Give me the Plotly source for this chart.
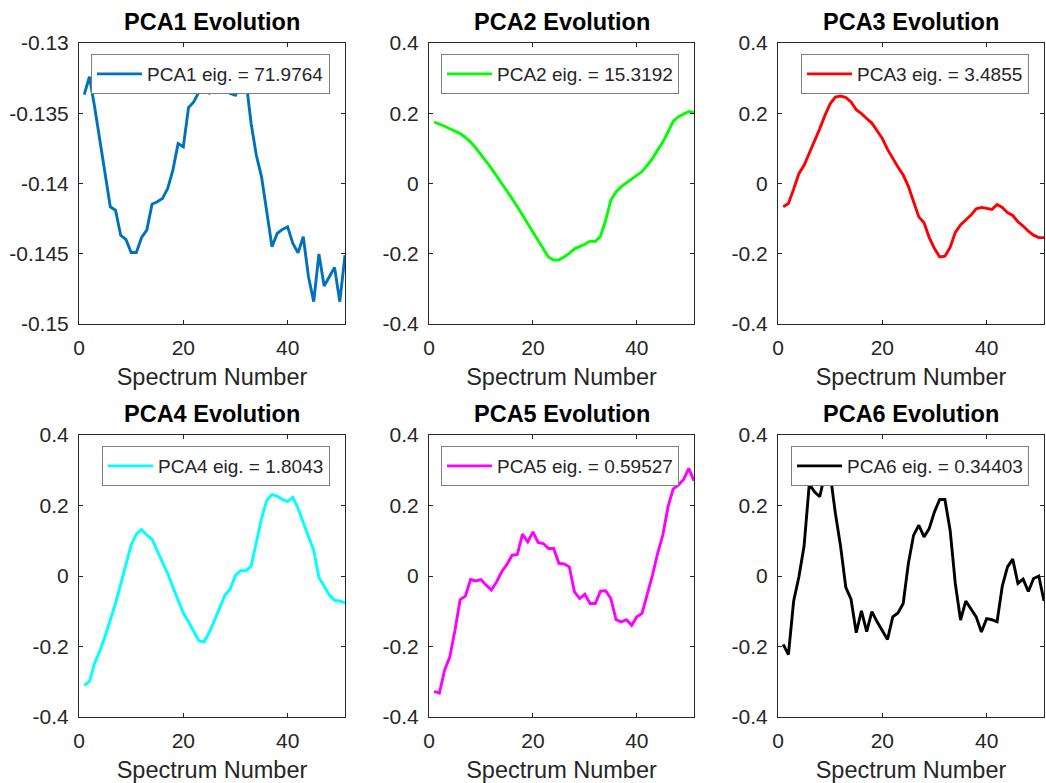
import plotly.graph_objects as go
from plotly.subplots import make_subplots

# spectrum index 1..51
spectrum = list(range(1, 52))

pca1 = [-0.13367, -0.1324, -0.13455, -0.13692, -0.13905, -0.14166, -0.14190, -0.14370, -0.14398, -0.14491,
        -0.14491, -0.14384, -0.14332, -0.14147, -0.14130, -0.14107, -0.14036, -0.13905, -0.13716, -0.13739,
        -0.13460, -0.13419, -0.13348, -0.13290, -0.13355, -0.13318, -0.13348, -0.13325, -0.13360, -0.13372,
        -0.13290, -0.13260, -0.13573, -0.13799, -0.13953, -0.14213, -0.14450, -0.14356, -0.14327, -0.14308,
        -0.14427, -0.14493, -0.14379, -0.14664, -0.14841, -0.14502, -0.14730, -0.14664, -0.14597, -0.14841,
        -0.14510]
pca2 = [0.175, 0.170, 0.163, 0.156, 0.149, 0.142, 0.131, 0.118, 0.101, 0.083,
        0.063, 0.043, 0.022, 0.000, -0.022, -0.043, -0.066, -0.090, -0.115, -0.142,
        -0.165, -0.188, -0.210, -0.218, -0.217, -0.209, -0.199, -0.186, -0.180, -0.173,
        -0.164, -0.165, -0.150, -0.105, -0.047, -0.024, -0.009, 0.002, 0.011, 0.022,
        0.034, 0.052, 0.071, 0.095, 0.118, 0.147, 0.177, 0.190, 0.197, 0.205,
        0.202]
pca3 = [-0.066, -0.057, -0.016, 0.028, 0.052, 0.085, 0.123, 0.156, 0.194, 0.227,
        0.246, 0.249, 0.245, 0.232, 0.210, 0.199, 0.185, 0.172, 0.150, 0.128,
        0.097, 0.071, 0.047, 0.024, -0.008, -0.052, -0.095, -0.112, -0.154, -0.185,
        -0.209, -0.207, -0.182, -0.139, -0.118, -0.104, -0.090, -0.072, -0.068, -0.071,
        -0.074, -0.060, -0.068, -0.083, -0.091, -0.109, -0.121, -0.136, -0.147, -0.154,
        -0.154]
pca4 = [-0.310, -0.299, -0.247, -0.213, -0.171, -0.125, -0.078, -0.023, 0.031, 0.088,
        0.119, 0.132, 0.116, 0.105, 0.071, 0.040, 0.007, -0.031, -0.069, -0.105,
        -0.130, -0.159, -0.184, -0.187, -0.159, -0.125, -0.088, -0.054, -0.037, 0.002,
        0.015, 0.015, 0.028, 0.093, 0.163, 0.215, 0.231, 0.227, 0.217, 0.211,
        0.223, 0.192, 0.149, 0.111, 0.073, -0.004, -0.029, -0.054, -0.069, -0.071,
        -0.076]
pca5 = [-0.327, -0.332, -0.267, -0.230, -0.154, -0.067, -0.057, -0.010, -0.014, -0.010,
        -0.026, -0.040, -0.017, 0.012, 0.033, 0.059, 0.061, 0.119, 0.097, 0.125,
        0.095, 0.092, 0.078, 0.078, 0.036, 0.034, 0.026, -0.045, -0.064, -0.052,
        -0.078, -0.078, -0.043, -0.042, -0.064, -0.124, -0.130, -0.124, -0.140, -0.116,
        -0.106, -0.052, 0.002, 0.064, 0.116, 0.196, 0.247, 0.258, 0.274, 0.305,
        0.270]
pca6 = [-0.194, -0.223, -0.071, -0.003, 0.085, 0.261, 0.239, 0.225, 0.290, 0.290,
        0.178, 0.084, -0.032, -0.066, -0.161, -0.099, -0.158, -0.101, -0.130, -0.156,
        -0.180, -0.116, -0.105, -0.078, 0.036, 0.116, 0.144, 0.111, 0.135, 0.182,
        0.217, 0.217, 0.130, -0.022, -0.125, -0.071, -0.092, -0.116, -0.159, -0.121,
        -0.124, -0.130, -0.029, 0.026, 0.048, -0.021, -0.009, -0.044, -0.007, 0.000,
        -0.071]

series = [pca1, pca2, pca3, pca4, pca5, pca6]
eigs = ["71.9764", "15.3192", "3.4855", "1.8043", "0.59527", "0.34403"]
colors = ["#0072BD", "#00FF00", "#FF0000", "#00FFFF", "#FF00FF", "#000000"]

yt_first = [-0.15, -0.145, -0.14, -0.135, -0.13]
yt_first_txt = ["-0.15", "-0.145", "-0.14", "-0.135", "-0.13"]
yt_other = [-0.4, -0.2, 0, 0.2, 0.4]
yt_other_txt = ["-0.4", "-0.2", "0", "0.2", "0.4"]

W, H = 1046, 783
col_px = [(79, 345), (429, 694), (778, 1044)]
row_px = [(43, 324), (435, 717)]
font = "Liberation Sans, Arial, sans-serif"
ink = "#262626"

fig = make_subplots(rows=2, cols=3)

for i, ys in enumerate(series):
    r, c = divmod(i, 3)
    fig.add_trace(go.Scatter(
        x=spectrum, y=ys, mode="lines",
        line=dict(color=colors[i], width=2.9),
        name=f"PCA{i+1} eig. = {eigs[i]}",
        legend="legend" if i == 0 else f"legend{i+1}",
        showlegend=True,
    ), row=r + 1, col=c + 1)

    x0, x1 = col_px[c]
    y0, y1 = row_px[r]
    dom_x = [x0 / W, x1 / W]
    dom_y = [1 - y1 / H, 1 - y0 / H]
    sfx = "" if i == 0 else str(i + 1)
    axstyle = dict(showline=True, mirror="ticks", linecolor=ink, linewidth=1,
                   ticks="inside", ticklen=4, tickcolor=ink, showgrid=False,
                   zeroline=False, automargin=False,
                   tickfont=dict(family=font, size=21, color=ink))
    fig.layout["xaxis" + sfx].update(
        domain=dom_x, range=[0, 51], tickvals=[0, 20, 40], ticktext=["0", "20", "40"],
        title=dict(text="Spectrum Number", font=dict(family=font, size=23.5, color=ink), standoff=10),
        ticklabelstandoff=5, **axstyle)
    if i == 0:
        yr, tv, tt = [-0.15, -0.13], yt_first, yt_first_txt
    else:
        yr, tv, tt = [-0.4, 0.4], yt_other, yt_other_txt
    fig.layout["yaxis" + sfx].update(domain=dom_y, range=yr, tickvals=tv, ticktext=tt,
                                      ticklabelstandoff=5, **axstyle)

    fig.layout["legend" + sfx] = dict(
        x=(x1 - 15) / W, xanchor="right", y=1 - (y0 + 11) / H, yanchor="top",
        xref="paper", yref="paper", itemwidth=45,
        bgcolor="white", bordercolor="#7f7f7f", borderwidth=1,
        font=dict(family=font, size=19, color=ink),
    )

    fig.add_annotation(text=f"<b>PCA{i+1} Evolution</b>", x=(x0 + x1) / 2 / W, y=1 - (y0 - 21) / H,
                       xref="paper", yref="paper", showarrow=False,
                       xanchor="center", yanchor="middle",
                       font=dict(family=font, size=23.5, color="black"))

fig.update_layout(width=W, height=H, margin=dict(l=0, r=0, t=0, b=0, autoexpand=False),
                  plot_bgcolor="white", paper_bgcolor="white")

fig.write_html("out.html", config={"displayModeBar": False},
               post_script="document.body.style.margin='0';document.body.style.overflow='hidden';")
